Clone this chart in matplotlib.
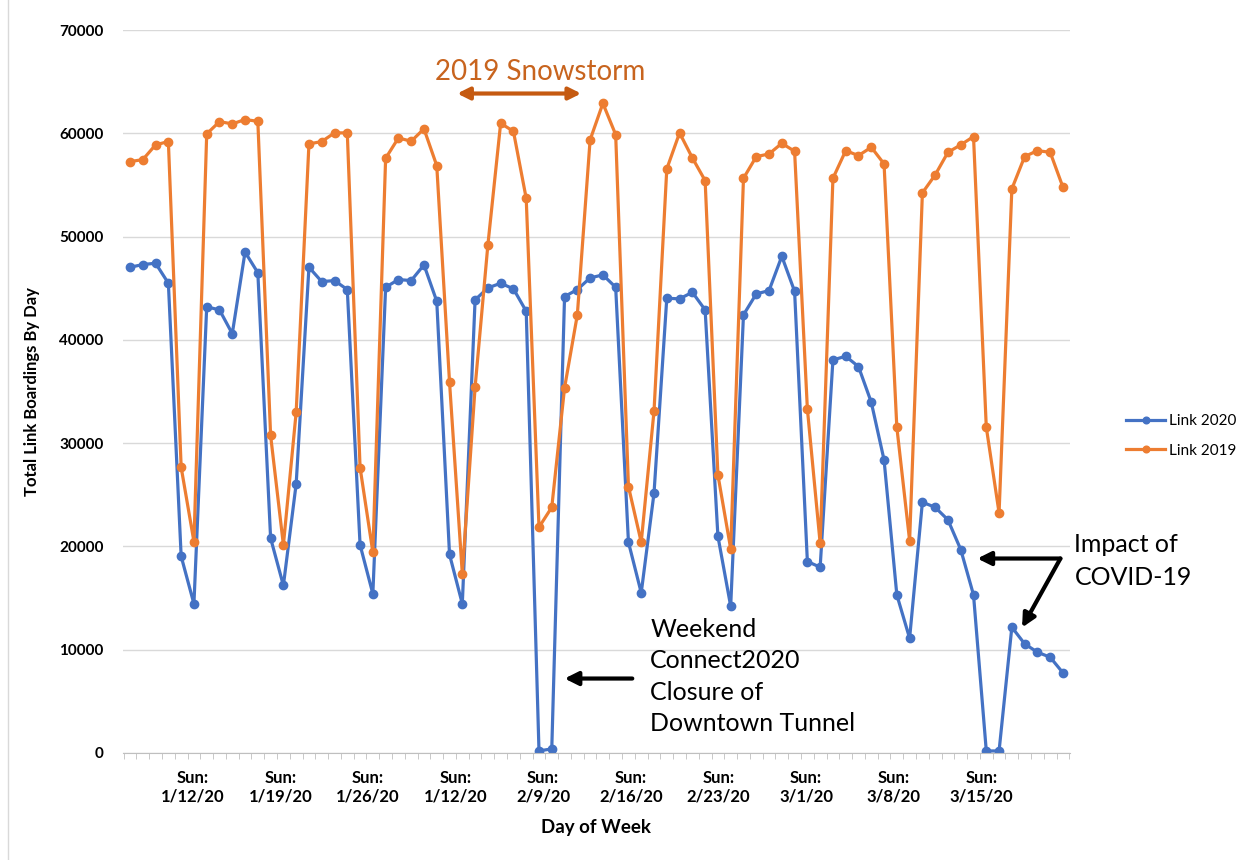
import numpy as np
import matplotlib
matplotlib.use('Agg')
import matplotlib.pyplot as plt
from matplotlib.lines import Line2D

plt.rcParams['font.family'] = ['Lato', 'DejaVu Sans']

# daily boardings, Tue 1/7/20 .. Fri 3/20/20 (and same weekdays in 2019)
link_2020 = [47030, 47290, 47420, 45480, 19050, 14440,
             43200, 42900, 40600, 48500, 46500, 20800, 16220,
             26060, 47030, 45640, 45740, 44870, 20150, 15410,
             45090, 45840, 45740, 47260, 43740, 19220, 14440,
             43870, 45030, 45480, 44940, 42770, 200, 400,
             44190, 44870, 46000, 46290, 45090, 20410, 15510,
             25150, 44030, 43970, 44610, 42900, 20990, 14210,
             42420, 44450, 44770, 48090, 44700, 18540, 17990,
             38060, 38410, 37410, 33960, 28380, 15310, 11110,
             24280, 23790, 22570, 19700, 15310, 200, 200,
             12180, 10570, 9760, 9270, 7760]
link_2019 = [57260, 57450, 58880, 59200, 27670, 20470,
             59940, 61130, 60910, 61330, 61160, 30740, 20150,
             32990, 58970, 59200, 60040, 60040, 27640, 19440,
             57580, 59550, 59230, 60430, 56870, 35900, 17350,
             35410, 49190, 60970, 60190, 53700, 21860, 23790,
             35350, 42420, 59360, 62900, 59870, 25800, 20410,
             33090, 56550, 60040, 57620, 55420, 26930, 19770,
             55640, 57740, 58000, 59030, 58260, 33320, 20310,
             55640, 58320, 57840, 58650, 57040, 31540, 20570,
             54230, 55970, 58160, 58880, 59680, 31540, 23250,
             54620, 57740, 58320, 58160, 54770]
sunday_labels = ['Sun:\n1/12/20', 'Sun:\n1/19/20', 'Sun:\n1/26/20', 'Sun:\n1/12/20',
                 'Sun:\n2/9/20', 'Sun:\n2/16/20', 'Sun:\n2/23/20', 'Sun:\n3/1/20',
                 'Sun:\n3/8/20', 'Sun:\n3/15/20']

blue = '#4472C4'
orange = '#ED7D31'
days = np.arange(len(link_2020))

fig = plt.figure(figsize=(12.47, 8.6), dpi=100)
ax = fig.add_axes([123/1247, 1-753/860, (1070-123)/1247, (753-30)/860])

l1, = ax.plot(days, link_2020, color=blue, lw=2.3, marker='o', ms=6, label='Link 2020')
l2, = ax.plot(days, link_2019, color=orange, lw=2.3, marker='o', ms=6, label='Link 2019')

ax.set_xlim(-0.55, len(days) - 0.45)
ax.set_ylim(0, 70000)
ax.set_yticks(np.arange(0, 70001, 10000))
ax.yaxis.grid(True, color='#d9d9d9', lw=1)
ax.set_axisbelow(True)
for s in ['top', 'right', 'left']:
    ax.spines[s].set_visible(False)
ax.spines['bottom'].set_color('#bfbfbf')
ax.tick_params(axis='y', length=0, pad=14, labelsize=11)
for t in ax.get_yticklabels():
    t.set_fontweight('bold')

ax.set_xticks(np.linspace(4.9, 66.6, len(sunday_labels)))
ax.set_xticklabels(sunday_labels, fontsize=12, fontweight='bold', linespacing=1.25)
ax.set_xticks(np.arange(-0.5, len(days), 1), minor=True)
ax.tick_params(axis='x', which='major', length=0, pad=12)
ax.tick_params(axis='x', which='minor', length=4, color='#bfbfbf')

ax.set_xlabel('Day of Week', fontsize=13.5, fontweight='bold', labelpad=10)
ax.set_ylabel('Total Link Boardings By Day', fontsize=12, fontweight='bold', labelpad=14)

# annotations
ax.text(32.1, 65900, '2019 Snowstorm', color='#C8641E', fontsize=20,
        ha='center', va='center')
ax.annotate('', xy=(25.6, 63850), xytext=(35.3, 63850),
            arrowprops=dict(arrowstyle='<|-|>', color='#C55A11', lw=3,
                            mutation_scale=18, shrinkA=0, shrinkB=0))

ax.text(40.7, 13100, 'Weekend\nConnect2020\nClosure of\nDowntown Tunnel',
        fontsize=18, ha='left', va='top', linespacing=1.45)
ax.annotate('', xy=(34.0, 7210), xytext=(39.3, 7210),
            arrowprops=dict(arrowstyle='-|>', color='black', lw=3,
                            mutation_scale=20, shrinkA=0, shrinkB=0))

ax.text(73.9, 18600, 'Impact of\nCOVID-19', fontsize=18, ha='left', va='center',
        linespacing=1.55, clip_on=False)
ax.annotate('', xy=(66.3, 18830), xytext=(72.8, 18830), annotation_clip=False,
            arrowprops=dict(arrowstyle='-|>', color='black', lw=3,
                            mutation_scale=20, shrinkA=0, shrinkB=0))
ax.annotate('', xy=(69.8, 12150), xytext=(72.8, 18830), annotation_clip=False,
            arrowprops=dict(arrowstyle='-|>', color='black', lw=3,
                            mutation_scale=20, shrinkA=0, shrinkB=0))

fig.legend(handles=[l1, l2], loc='center left', bbox_to_anchor=(1112/1247, 1-436/860),
           frameon=False, fontsize=11, handlelength=2.6, handletextpad=0.2,
           labelspacing=1.0, markerscale=0.8)

fig.add_artist(Line2D([8/1247, 8/1247], [0, 1], color='#d9d9d9', lw=1))

fig.savefig('out.png', dpi=100)
